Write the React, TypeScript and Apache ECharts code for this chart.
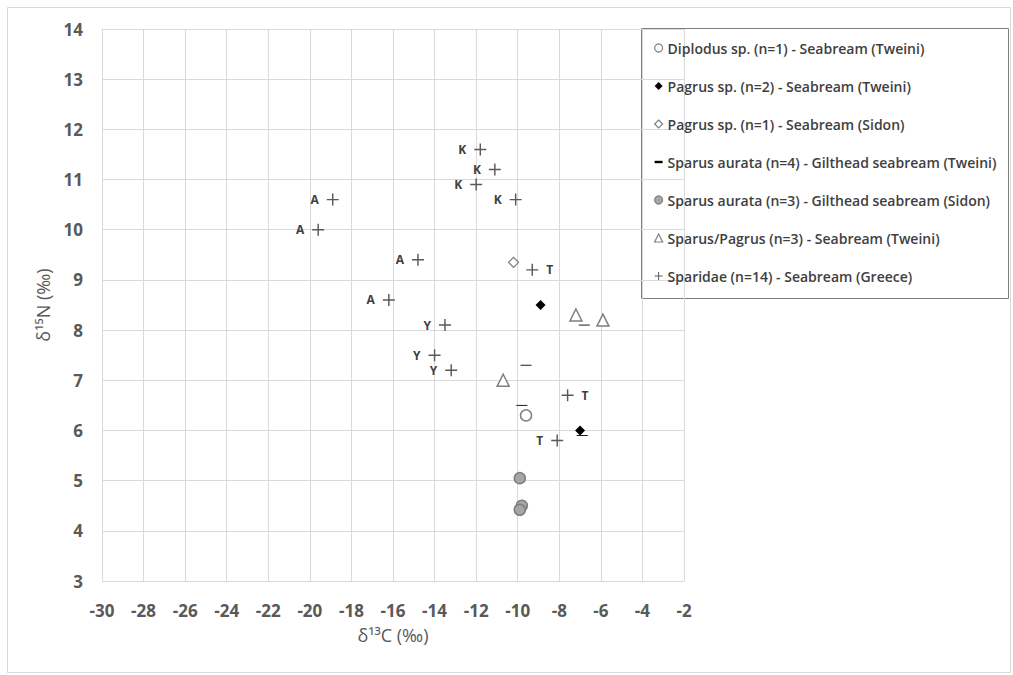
import React, { useEffect, useRef } from "react";
import * as echarts from "echarts";

// ---- data (δ13C, δ15N) ----
const diplodusX = [-9.6];
const diplodusY = [6.3];
const pagrusTweiniX = [-8.9, -7.0];
const pagrusTweiniY = [8.5, 6.0];
const pagrusSidonX = [-10.2];
const pagrusSidonY = [9.35];
const aurataTweiniX = [-6.8, -9.6, -9.8, -6.9];
const aurataTweiniY = [8.1, 7.3, 6.5, 5.9];
const aurataSidonX = [-9.9, -9.8, -9.9];
const aurataSidonY = [5.05, 4.5, 4.42];
const sparusPagrusX = [-7.2, -5.9, -10.7];
const sparusPagrusY = [8.3, 8.2, 7.0];
const sparidaeX = [-18.9, -19.6, -14.8, -16.2, -11.8, -11.1, -12.0, -10.1, -13.5, -14.0, -13.2, -9.3, -7.6, -8.1];
const sparidaeY = [10.6, 10.0, 9.4, 8.6, 11.6, 11.2, 10.9, 10.6, 8.1, 7.5, 7.2, 9.2, 6.7, 5.8];
const sparidaeTag = ["A", "A", "A", "A", "K", "K", "K", "K", "Y", "Y", "Y", "T", "T", "T"];
const sparidaeTagSide = ["left", "left", "left", "left", "left", "left", "left", "left", "left", "left", "left", "right", "right", "left"];

const seriesNames = [
  "Diplodus sp. (n=1) - Seabream (Tweini)",
  "Pagrus sp. (n=2) - Seabream (Tweini)",
  "Pagrus sp. (n=1) - Seabream (Sidon)",
  "Sparus aurata (n=4) - Gilthead seabream (Tweini)",
  "Sparus aurata (n=3) - Gilthead seabream (Sidon)",
  "Sparus/Pagrus (n=3) - Seabream (Tweini)",
  "Sparidae (n=14) - Seabream (Greece)",
];

const xMin = -30, xMax = -2, xStep = 2;
const yMin = 3, yMax = 14, yStep = 1;

const zip = (xs: number[], ys: number[]) => xs.map((x, i) => [x, ys[i]]);

const PLUS = "path://M0,4.4H10V5.6H0Z M4.4,0H5.6V10H4.4Z";
const DASH = "path://M0,0H10V3H0Z";
const FONT = "'Open Sans', 'Liberation Sans', sans-serif";

export default function App() {
  const ref = useRef<HTMLDivElement>(null);
  useEffect(() => {
    document.body.style.margin = "0";
    if (!ref.current) return;
    const chart = echarts.init(ref.current, undefined, { renderer: "svg" });
    const grey = "#7f7f7f";
    chart.setOption({
      animation: false,
      backgroundColor: "#fff",
      textStyle: { fontFamily: FONT },
      grid: { left: 102, top: 29, width: 582, height: 552, containLabel: false },
      xAxis: {
        type: "value",
        min: xMin,
        max: xMax,
        interval: xStep,
        name: "δ¹³C (‰)",
        nameLocation: "middle",
        nameGap: 45,
        nameTextStyle: { fontSize: 18, color: "#595959", fontFamily: FONT },
        axisLine: { show: true, lineStyle: { color: "#d9d9d9" } },
        axisTick: { show: false },
        splitLine: { show: true, lineStyle: { color: "#d9d9d9" } },
        axisLabel: { fontSize: 17, fontWeight: "bold", color: "#595959", margin: 21, fontFamily: FONT },
      },
      yAxis: {
        type: "value",
        min: yMin,
        max: yMax,
        interval: yStep,
        name: "δ¹⁵N (‰)",
        nameLocation: "middle",
        nameGap: 50,
        nameTextStyle: { fontSize: 18, color: "#595959", fontFamily: FONT },
        axisLine: { show: true, lineStyle: { color: "#d9d9d9" } },
        axisTick: { show: false },
        splitLine: { show: true, lineStyle: { color: "#d9d9d9" } },
        axisLabel: { fontSize: 17, fontWeight: "bold", color: "#595959", margin: 19, fontFamily: FONT },
      },
      legend: {
        orient: "vertical",
        left: 654,
        top: 41,
        itemWidth: 8,
        itemHeight: 8,
        itemGap: 24,
        padding: 0,
        textStyle: { fontSize: 14, fontWeight: 600, color: "#404040", lineHeight: 14, height: 14, fontFamily: FONT, padding: [0, 0, 0, 0] },
        data: [
          { name: seriesNames[0], itemStyle: { borderWidth: 1.2 } },
          { name: seriesNames[1], itemStyle: { borderWidth: 0 } },
          { name: seriesNames[2], itemStyle: { borderWidth: 1.2 } },
          { name: seriesNames[3], itemStyle: { borderWidth: 0 } },
          { name: seriesNames[4], itemStyle: { borderWidth: 1.2 } },
          { name: seriesNames[5], itemStyle: { borderWidth: 1.2 } },
          { name: seriesNames[6], itemStyle: { borderWidth: 0 } },
        ],
      },
      graphic: [
        { type: "rect", shape: { x: 7.5, y: 7.5, width: 1003, height: 665 }, style: { fill: "none", stroke: "#d9d9d9", lineWidth: 1 }, silent: true },
        { type: "rect", shape: { x: 641.5, y: 28.5, width: 367, height: 270 }, style: { fill: "#fff", stroke: grey, lineWidth: 1 }, z: -1, zlevel: 0, silent: true },
      ],
      series: [
        {
          name: seriesNames[0], type: "scatter", symbol: "circle", symbolSize: 11,
          itemStyle: { color: "#fff", borderColor: grey, borderWidth: 1.5, opacity: 1 },
          data: zip(diplodusX, diplodusY), z: 3,
        },
        {
          name: seriesNames[1], type: "scatter", symbol: "diamond", symbolSize: 10,
          itemStyle: { color: "#000", opacity: 1 },
          data: zip(pagrusTweiniX, pagrusTweiniY), z: 4,
        },
        {
          name: seriesNames[2], type: "scatter", symbol: "diamond", symbolSize: 10,
          itemStyle: { color: "#fff", borderColor: grey, borderWidth: 1.3, opacity: 1 },
          data: zip(pagrusSidonX, pagrusSidonY), z: 3,
        },
        {
          name: seriesNames[3], type: "scatter", symbol: DASH, symbolSize: [11, 3], symbolKeepAspect: true,
          itemStyle: { color: "#000", opacity: 1 },
          data: zip(aurataTweiniX, aurataTweiniY), z: 5,
        },
        {
          name: seriesNames[4], type: "scatter", symbol: "circle", symbolSize: 11,
          itemStyle: { color: "#a6a6a6", borderColor: grey, borderWidth: 1.5, opacity: 1 },
          data: zip(aurataSidonX, aurataSidonY), z: 3,
        },
        {
          name: seriesNames[5], type: "scatter", symbol: "triangle", symbolSize: 12,
          itemStyle: { color: "#fff", borderColor: grey, borderWidth: 1.5, opacity: 1 },
          data: zip(sparusPagrusX, sparusPagrusY), z: 3,
        },
        {
          name: seriesNames[6], type: "scatter", symbol: PLUS, symbolSize: 12,
          itemStyle: { color: "#595959", opacity: 1 },
          data: sparidaeX.map((x, i) => ({
            value: [x, sparidaeY[i]],
            label: {
              show: true,
              formatter: sparidaeTag[i],
              position: sparidaeTagSide[i],
              distance: 8,
              fontSize: 12,
              fontWeight: "bold",
              color: "#404040",
              fontFamily: FONT,
            },
          })),
          z: 3,
        },
      ],
    });
    return () => chart.dispose();
  }, []);
  return <div ref={ref} style={{ width: 1013, height: 675 }} />;
}
